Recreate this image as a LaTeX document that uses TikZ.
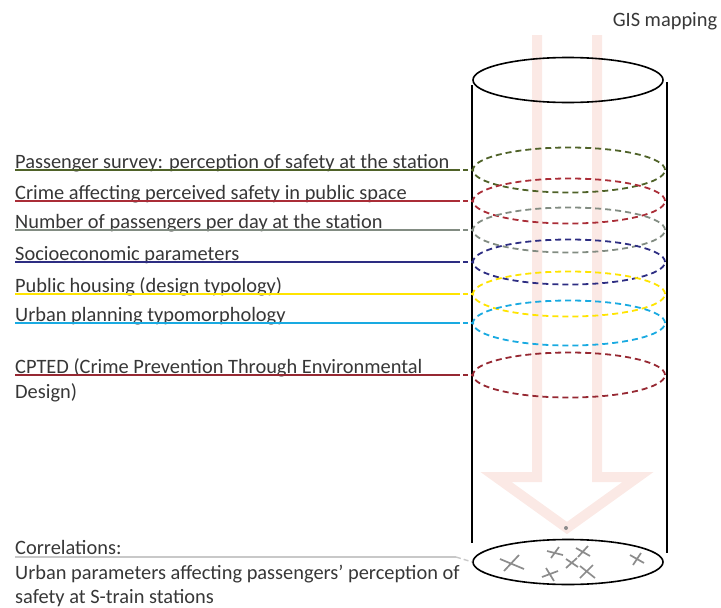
\documentclass[tikz,border=0pt]{standalone}
\usepackage{fontspec}
\setmainfont{Carlito}
\usetikzlibrary{shapes.geometric, positioning}

\definecolor{txtgrey}{RGB}{55,55,55}
\definecolor{svycol}{RGB}{79,98,40}
\definecolor{crimecol}{RGB}{170,45,55}
\definecolor{paxcol}{RGB}{130,140,130}
\definecolor{sociocol}{RGB}{45,45,130}
\definecolor{housingcol}{RGB}{255,228,0}
\definecolor{urbancol}{RGB}{25,170,225}
\definecolor{cptedcol}{RGB}{150,40,50}
\definecolor{corrgrey}{RGB}{200,200,200}
\definecolor{xgrey}{RGB}{140,140,140}
\definecolor{arrowpink}{RGB}{251,233,229}

\begin{document}
\begin{tikzpicture}[x=1pt, y=-1pt,
    lbl/.style={anchor=base west, inner sep=0pt, text=txtgrey, font=\fontsize{20.4}{24}\selectfont},
    ring/.style={ellipse, draw, line width=1.8pt, dash pattern=on 6pt off 4pt, minimum width=192pt, minimum height=45pt, inner sep=0pt},
    lead/.style={line width=1.8pt},
    leadend/.style={line width=1.8pt, dash pattern=on 5pt off 3pt},
    wall/.style={line width=1.6pt},
    xmark/.style={draw=xgrey, line width=1.7pt}]
    \useasboundingbox (0,0) rectangle (721,608);

    % pale arrow down the cylinder
    \draw[arrowpink, line width=10pt, line join=miter] (537,35) -- (537,477) -- (496,477) -- (567,528) -- (638,477) -- (597,477) -- (597,35);
    \fill[xgrey] (566,528) circle (2);

    \node[lbl, anchor=center] (gis) at (665,21) {GIS mapping};

    % cylinder
    \node[ellipse, draw, line width=1.6pt, minimum width=190pt, minimum height=45pt, inner sep=0pt] (topring) at (568,80) {};
    \draw[wall] (472,85) -- (472,543);
    \draw[wall] (667,82) -- (667,553);
    \node[ellipse, draw, line width=1.6pt, minimum width=190pt, minimum height=45pt, inner sep=0pt] (corrring) at (568,562) {};

    % layers
    \node[ring, draw=svycol] (svyring) at (569,170) {};
    \node[ring, draw=crimecol] (crimering) at (569,201) {};
    \node[ring, draw=paxcol] (paxring) at (569,230) {};
    \node[ring, draw=sociocol] (socioring) at (569,262) {};
    \node[ring, draw=housingcol] (housingring) at (569,294) {};
    \node[ring, draw=urbancol] (urbanring) at (569,323) {};
    \node[ring, draw=cptedcol] (cptedring) at (569,375) {};

    \node[lbl] (svy) at (15,168) {Passenger survey: perception of safety at the station};
    \node[lbl] (crime) at (15,199) {Crime affecting perceived safety in public space};
    \node[lbl] (pax) at (15,228) {Number of passengers per day at the station};
    \node[lbl] (socio) at (15,260) {Socioeconomic parameters};
    \node[lbl] (housing) at (15,292) {Public housing (design typology)};
    \node[lbl] (urban) at (15,321) {Urban planning typomorphology};
    \node[lbl] (cpted) at (15,373) {CPTED (Crime Prevention Through Environmental};
    \node[lbl] (cpted2) at (15,398) {Design)};

    \draw[lead, svycol] (svy.base west |- svyring.west) -- ([xshift=-17pt]svyring.west);
    \draw[leadend, svycol] ([xshift=-17pt]svyring.west) -- (svyring.west);
    \draw[lead, crimecol] (crime.base west |- crimering.west) -- ([xshift=-17pt]crimering.west);
    \draw[leadend, crimecol] ([xshift=-17pt]crimering.west) -- (crimering.west);
    \draw[lead, paxcol] (pax.base west |- paxring.west) -- ([xshift=-17pt]paxring.west);
    \draw[leadend, paxcol] ([xshift=-17pt]paxring.west) -- (paxring.west);
    \draw[lead, sociocol] (socio.base west |- socioring.west) -- ([xshift=-17pt]socioring.west);
    \draw[leadend, sociocol] ([xshift=-17pt]socioring.west) -- (socioring.west);
    \draw[lead, housingcol] (housing.base west |- housingring.west) -- ([xshift=-17pt]housingring.west);
    \draw[leadend, housingcol] ([xshift=-17pt]housingring.west) -- (housingring.west);
    \draw[lead, urbancol] (urban.base west |- urbanring.west) -- ([xshift=-17pt]urbanring.west);
    \draw[leadend, urbancol] ([xshift=-17pt]urbanring.west) -- (urbanring.west);
    \draw[lead, cptedcol] (cpted.base west |- cptedring.west) -- ([xshift=-17pt]cptedring.west);
    \draw[leadend, cptedcol] ([xshift=-17pt]cptedring.west) -- (cptedring.west);

    % correlations
    \node[lbl] (corr) at (15,554) {Correlations:};
    \node[lbl] (corrtxt) at (15,579) {Urban parameters affecting passengers’ perception of};
    \node[lbl] (corrtxt2) at (15,603) {safety at S-train stations};
    \coordinate (corrj) at (456,557);
    \draw[lead, corrgrey, line width=1.4pt] (corr.base west |- corrj) -- (corrj);
    \draw[leadend, corrgrey, line width=1.4pt] (corrj) -- (corrring.west);

    \draw[xmark] (512,563) +(-12,-4) -- +(12,6) +(-8,8) -- +(7,-8);
    \draw[xmark] (555,553) +(-8,-2) -- +(8,2) +(-4,5) -- +(4,-6);
    \draw[xmark] (583,552) +(-7,-4) -- +(7,4) +(-5,5) -- +(5,-6);
    \draw[xmark] (572,563) +(-6,-4) -- +(6,4) +(-6,5) -- +(5,-5);
    \draw[xmark] (550,574) +(-8,3) -- +(8,-3) +(-4,-6) -- +(4,7);
    \draw[xmark] (587,572) +(-7,-6) -- +(8,6) +(-7,6) -- +(6,-7);
    \draw[xmark] (637,559) +(-7,-4) -- +(7,4) +(-4,6) -- +(4,-6);
\end{tikzpicture}
\end{document}
